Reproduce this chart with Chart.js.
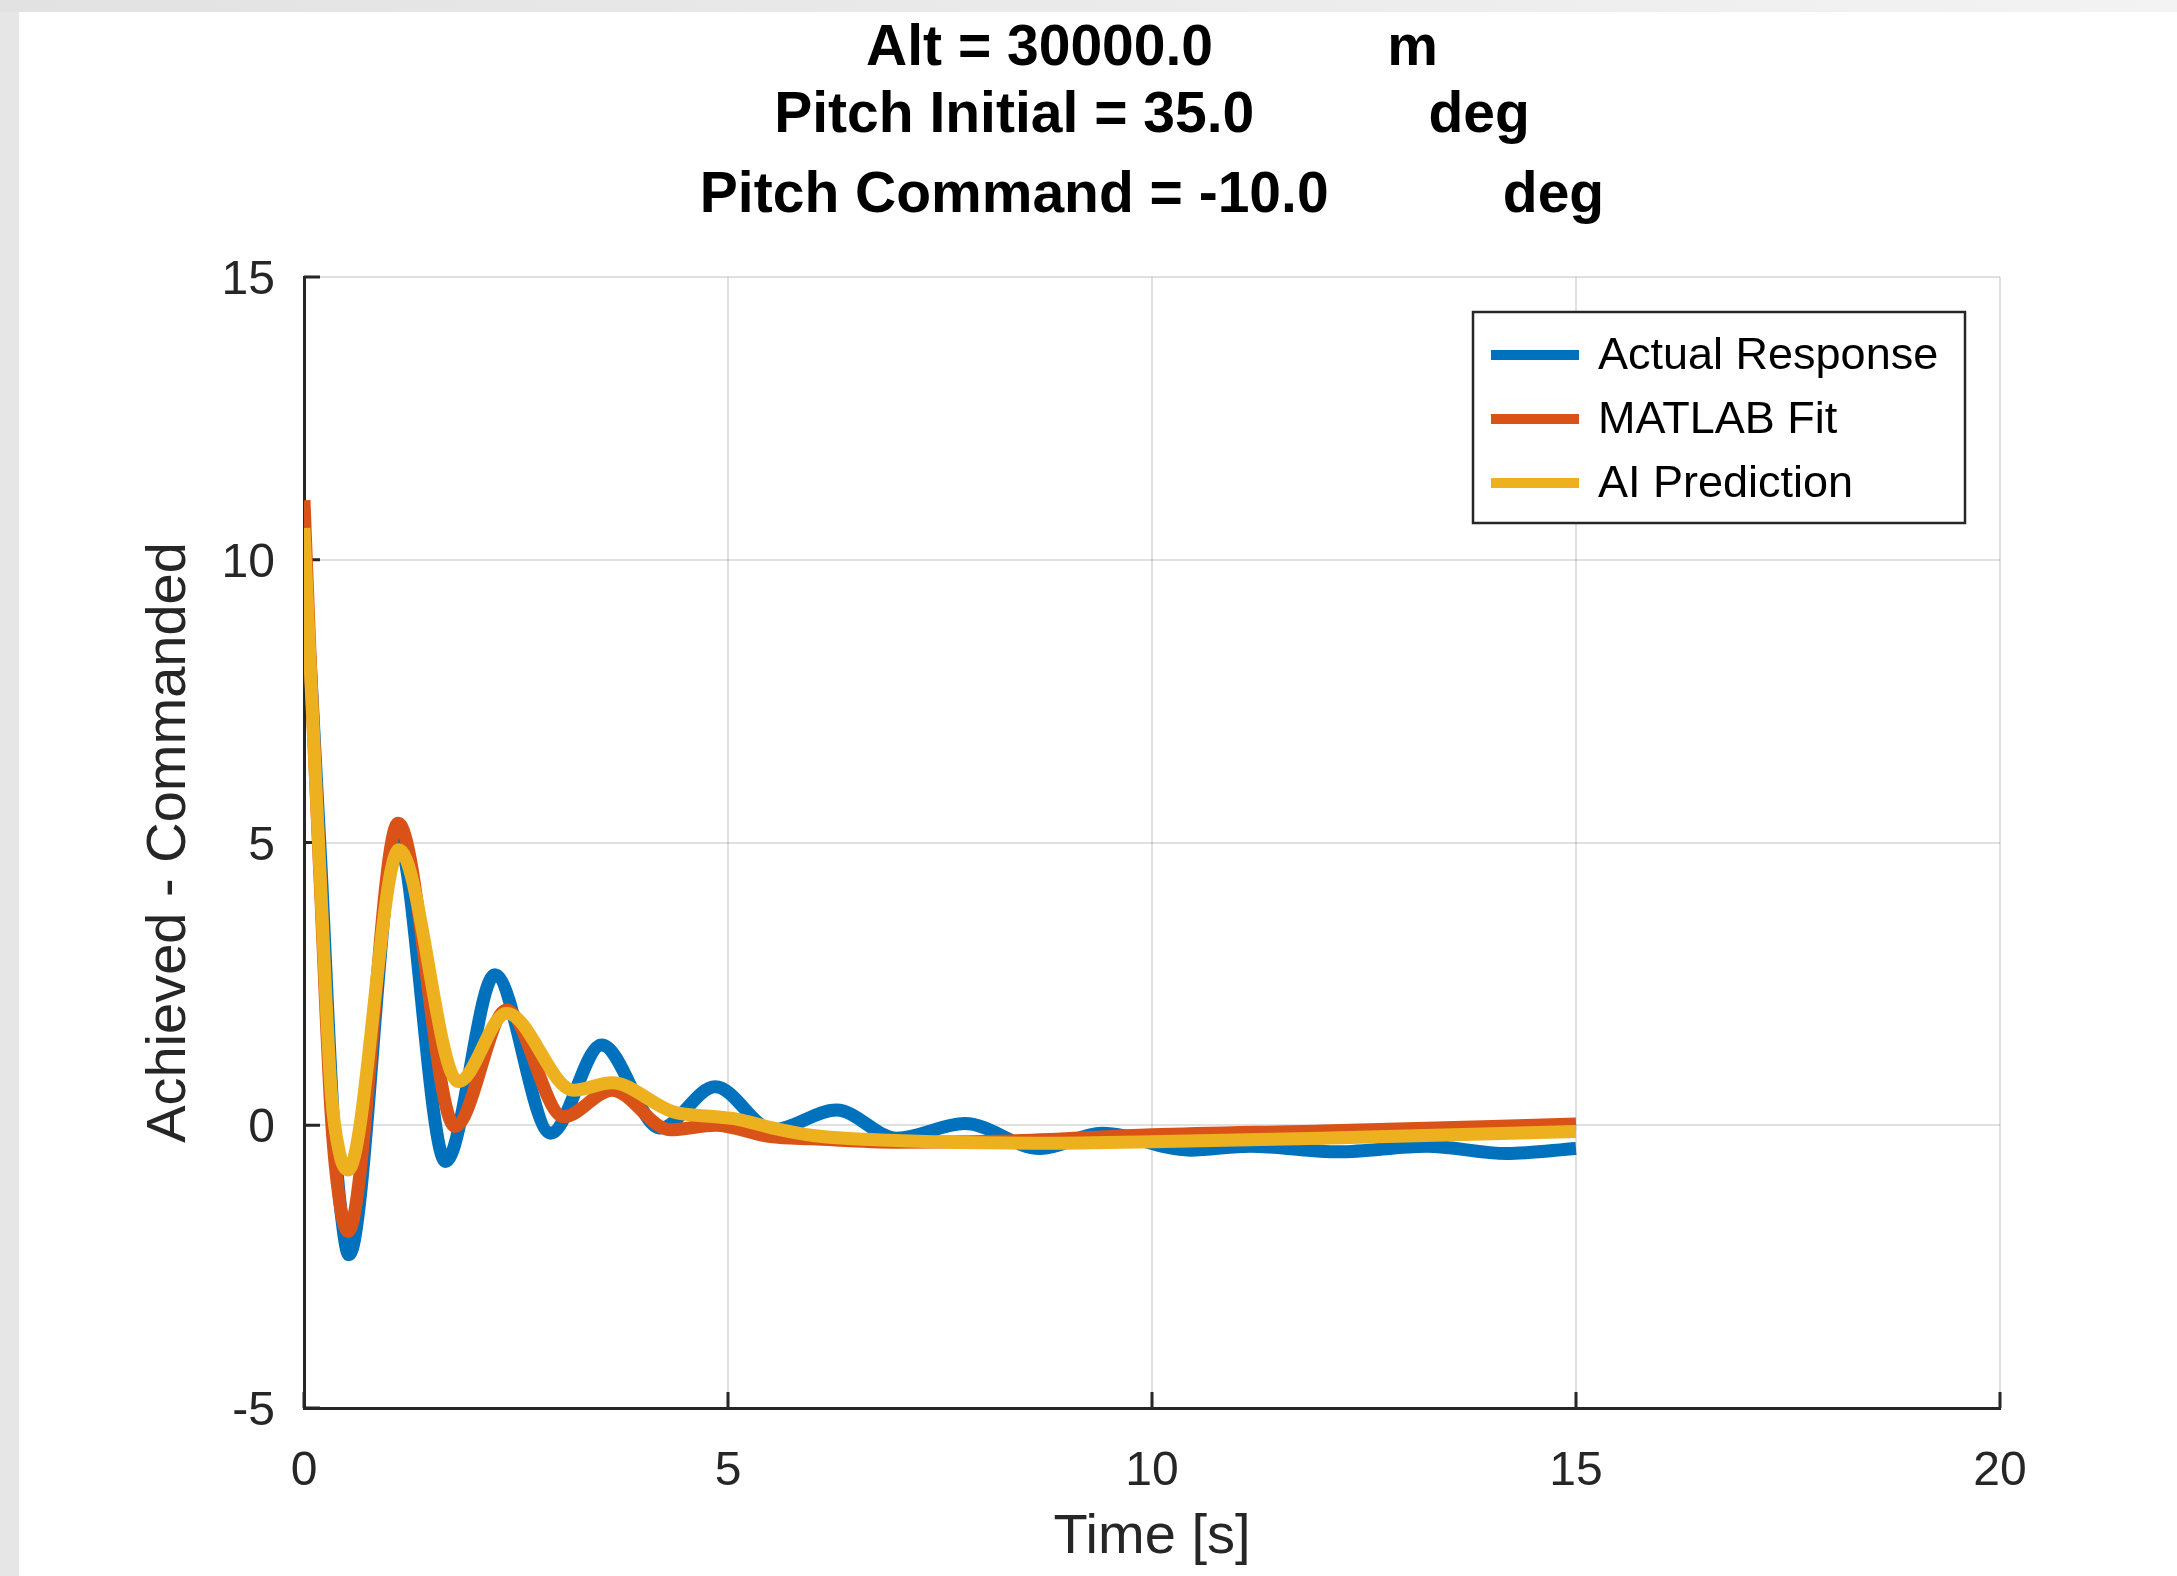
<!DOCTYPE html>
<html>
<head>
<meta charset="utf-8">
<script src="https://cdn.jsdelivr.net/npm/chart.js@4.4.0/dist/chart.umd.min.js"></script>
<style>
  html, body { margin: 0; padding: 0; }
  body { width: 2177px; height: 1576px; background: #e6e6e6; position: relative; overflow: hidden; }
  #topband { position: absolute; left: 0; top: 0; width: 2177px; height: 12px; background: linear-gradient(to right, #e2e2e2, #f3f3f3); }
  #frame { position: absolute; left: 19px; top: 12px; width: 2158px; height: 1564px; background: #fff; }
</style>
</head>
<body>
<div id="topband"></div>
<div id="frame"><canvas id="chart" width="2158" height="1564"></canvas></div>
<script>
// title text (MATLAB pads the units with spaces)
const titleLines = [
    'Alt = 30000.0           m',
    'Pitch Initial = 35.0           deg',
    'Pitch Command = -10.0           deg'
];
const seriesLabels = ['Actual Response', 'MATLAB Fit', 'AI Prediction'];
const seriesColors = ['#0072BD', '#D95319', '#EDB120'];

// Actual Response
const actualT = [0, 0.08, 0.2, 0.35, 0.45, 0.53, 1.10, 1.67, 2.25, 2.91, 3.51, 4.20, 4.85, 5.53, 6.28, 6.99, 7.79, 8.68, 9.41, 10.45, 11.16, 12.2, 13.24, 14.18, 15];
const actualV = [10.0, 8.0, 4.6, 0.0, -1.7, -2.29, 5.10, -0.64, 2.66, -0.14, 1.42, -0.05, 0.68, -0.08, 0.27, -0.23, 0.03, -0.41, -0.14, -0.44, -0.37, -0.47, -0.37, -0.50, -0.41];

// MATLAB Fit
const fitT = [0, 0.08, 0.2, 0.32, 0.42, 0.52, 1.11, 1.78, 2.39, 3.06, 3.63, 4.32, 4.85, 5.5, 6.0, 7.0, 8.3, 10.0, 12.0, 15];
const fitV = [11.05, 8.0, 4.0, 0.2, -1.35, -1.88, 5.34, -0.02, 2.04, 0.15, 0.62, -0.08, 0.0, -0.2, -0.24, -0.3, -0.28, -0.17, -0.1, 0.02];

// AI Prediction
const aiT = [0, 0.08, 0.2, 0.32, 0.42, 0.52, 1.12, 1.82, 2.39, 3.18, 3.63, 4.35, 4.85, 5.1, 5.53, 6.0, 6.8, 8.6, 10.0, 12.0, 15];
const aiV = [10.56, 7.9, 4.1, 0.6, -0.5, -0.79, 4.87, 0.77, 1.98, 0.62, 0.75, 0.24, 0.15, 0.11, -0.05, -0.18, -0.26, -0.32, -0.29, -0.23, -0.11];

const xTitle = 'Time [s]';
const yTitle = 'Achieved - Commanded';

const FONT = "'Liberation Sans', Arial, Helvetica, sans-serif";
const AXIS_COLOR = '#262626';

function toPoints(ts, vs) {
    return ts.map((t, i) => ({ x: t, y: vs[i] }));
}

// bold multi-line title centred over the plot box
const matlabTitle = {
    id: 'matlabTitle',
    afterDraw(chart) {
        const { ctx, chartArea } = chart;
        const cx = (chartArea.left + chartArea.right) / 2;
        const offsets = [212, 145, 65];
        ctx.save();
        ctx.font = 'bold 57px ' + FONT;
        ctx.fillStyle = '#000';
        ctx.textAlign = 'center';
        ctx.textBaseline = 'alphabetic';
        titleLines.forEach((line, i) => {
            ctx.fillText(line, cx, chartArea.top - offsets[i]);
        });
        ctx.restore();
    }
};

// MATLAB style tick marks pointing into the plot
const innerTicks = {
    id: 'innerTicks',
    beforeDatasetsDraw(chart) {
        const { ctx, chartArea, scales } = chart;
        const len = 16;
        ctx.save();
        ctx.strokeStyle = AXIS_COLOR;
        ctx.lineWidth = 3;
        ctx.beginPath();
        scales.x.ticks.forEach(t => {
            const px = scales.x.getPixelForValue(t.value);
            ctx.moveTo(px, chartArea.bottom);
            ctx.lineTo(px, chartArea.bottom - len);
        });
        scales.y.ticks.forEach(t => {
            const py = scales.y.getPixelForValue(t.value);
            ctx.moveTo(chartArea.left, py);
            ctx.lineTo(chartArea.left + len, py);
        });
        ctx.stroke();
        ctx.restore();
    }
};

// boxed legend in the upper right of the axes
const boxedLegend = {
    id: 'boxedLegend',
    afterDraw(chart) {
        const { ctx, chartArea } = chart;
        const boxRight = chartArea.right - 35;
        const boxW = 492, boxH = 211;
        const boxLeft = boxRight - boxW;
        const boxTop = chartArea.top + 35;
        ctx.save();
        ctx.fillStyle = '#fff';
        ctx.fillRect(boxLeft, boxTop, boxW, boxH);
        ctx.strokeStyle = AXIS_COLOR;
        ctx.lineWidth = 2.5;
        ctx.strokeRect(boxLeft, boxTop, boxW, boxH);
        ctx.font = '45px ' + FONT;
        ctx.textBaseline = 'middle';
        ctx.textAlign = 'left';
        chart.data.datasets.forEach((ds, i) => {
            const y = boxTop + 43 + i * 64;
            ctx.strokeStyle = ds.borderColor;
            ctx.lineWidth = 10;
            ctx.beginPath();
            ctx.moveTo(boxLeft + 18, y);
            ctx.lineTo(boxLeft + 106, y);
            ctx.stroke();
            ctx.fillStyle = '#000';
            ctx.fillText(ds.label, boxLeft + 125, y + 2);
        });
        ctx.restore();
    }
};

const gridColor = 'rgba(0, 0, 0, 0.12)';

new Chart(document.getElementById('chart'), {
    type: 'line',
    data: {
        datasets: [{
            label: seriesLabels[0],
            data: toPoints(actualT, actualV),
            borderColor: seriesColors[0],
            order: 3
        }, {
            label: seriesLabels[1],
            data: toPoints(fitT, fitV),
            borderColor: seriesColors[1],
            order: 2
        }, {
            label: seriesLabels[2],
            data: toPoints(aiT, aiV),
            borderColor: seriesColors[2],
            order: 1
        }]
    },
    options: {
        responsive: false,
        animation: false,
        layout: { padding: { left: 0, right: 177, top: 265, bottom: 0 } },
        elements: {
            point: { radius: 0 },
            line: {
                borderWidth: 13,
                cubicInterpolationMode: 'monotone',
                borderJoinStyle: 'round',
                borderCapStyle: 'butt',
                fill: false
            }
        },
        plugins: {
            legend: { display: false },
            tooltip: { enabled: false },
            title: { display: false }
        },
        scales: {
            x: {
                type: 'linear',
                min: 0,
                max: 20,
                afterFit: s => { s.height = 168; },
                ticks: {
                    stepSize: 5,
                    padding: 35,
                    maxRotation: 0,
                    color: AXIS_COLOR,
                    font: { family: FONT, size: 48 }
                },
                grid: { color: gridColor, lineWidth: 2, drawTicks: false },
                border: { color: AXIS_COLOR, width: 3 },
                title: {
                    display: true,
                    text: xTitle,
                    color: AXIS_COLOR,
                    font: { family: FONT, size: 56 },
                    padding: { top: 0, bottom: 5 }
                }
            },
            y: {
                type: 'linear',
                min: -5,
                max: 15,
                afterFit: s => { s.width = 285; },
                ticks: {
                    stepSize: 5,
                    padding: 29,
                    labelOffset: 4,
                    color: AXIS_COLOR,
                    font: { family: FONT, size: 48 }
                },
                grid: { color: gridColor, lineWidth: 2, drawTicks: false },
                border: { color: AXIS_COLOR, width: 3 },
                title: {
                    display: true,
                    text: yTitle,
                    color: AXIS_COLOR,
                    font: { family: FONT, size: 56 },
                    padding: { top: 117, bottom: 0 }
                }
            }
        }
    },
    plugins: [innerTicks, matlabTitle, boxedLegend]
});
</script>
</body>
</html>
